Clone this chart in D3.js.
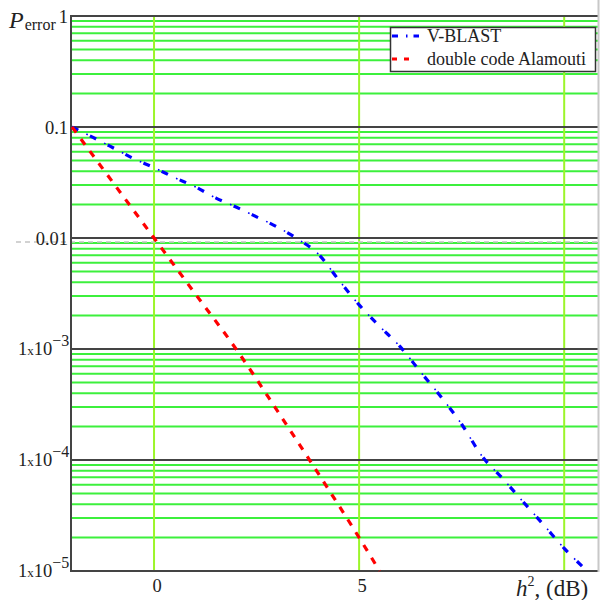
<!DOCTYPE html>
<html>
<head>
<meta charset="utf-8">
<script src="https://cdn.jsdelivr.net/npm/d3@7"></script>
<style>
  body { margin: 0; background: #fff; }
  text { font-family: "Liberation Serif", "Times New Roman", serif; fill: #222; }
</style>
</head>
<body>
<div id="chart"></div>
<script>
// data
const snrDb = [-2, -1.5, -1, -0.5, 0, 0.5, 1, 1.5, 2, 2.5, 3, 3.5, 4, 4.5, 5, 5.5, 6, 6.5, 7, 7.5, 8, 8.5, 9, 9.5, 10, 10.5];
const vblast = [0.1, 0.081, 0.065, 0.052, 0.043, 0.035, 0.029, 0.023, 0.019, 0.0155, 0.0126, 0.0098,
                0.0072, 0.0042, 0.0025, 0.0016, 0.00105, 6.2e-4, 3.7e-4, 2.1e-4, 1.08e-4, 6.8e-5, 4.2e-5, 2.6e-5, 1.6e-5, 1.05e-5];
const alamoutiDb = [-2, -1, 0, 1, 2, 3, 4, 5, 5.5];
const alamouti = [0.1, 0.0316, 0.01, 0.00316, 0.001, 2.8e-4, 7.6e-5, 2e-5, 1e-5];
const xTicks = [0, 5, 10];
const xTickLabels = ["0", "5", ""];
const yTicks = [1, 0.1, 0.01, 1e-3, 1e-4, 1e-5];
const yExp = ["1", "0.1", "0.01", "-3", "-4", "-5"];
const seriesNames = ["V-BLAST", "double code Alamouti"];

let width = 603, height = 600;
let svg = d3.select("#chart").append("svg")
    .attr("width", width).attr("height", height);

let x = d3.scaleLinear().domain([-2, 10.8]).range([72, 597]);
let y = d3.scaleLog().domain([1, 1e-5]).range([16, 571]);

// minor horizontal grid (2..9 x decade)
let minor = [];
yTicks.slice(1).forEach(function (d) {
    for (let k = 2; k <= 9; k++) minor.push(d * k);
});
let grid = svg.append("g");
grid.selectAll("line.minor")
    .data(minor)
    .enter().append("line")
    .attr("x1", x(-2)).attr("x2", 598)
    .attr("y1", d => y(d)).attr("y2", d => y(d))
    .attr("stroke", "#3cf03c").attr("stroke-width", 2);

// vertical grid
grid.selectAll("line.vert")
    .data(xTicks)
    .enter().append("line")
    .attr("x1", d => x(d)).attr("x2", d => x(d))
    .attr("y1", y(1)).attr("y2", y(1e-5))
    .attr("stroke", "#9cf52a").attr("stroke-width", 2);

// dashed grey marker line just below 0.01
svg.append("line")
    .attr("x1", 16).attr("x2", 598)
    .attr("y1", y(0.01) + 4).attr("y2", y(0.01) + 4)
    .attr("stroke", "#c4c4c4").attr("stroke-width", 1.5)
    .attr("stroke-dasharray", "5,4");

// decade lines
grid.selectAll("line.major")
    .data(yTicks)
    .enter().append("line")
    .attr("x1", x(-2) - 1).attr("x2", 598)
    .attr("y1", d => y(d)).attr("y2", d => y(d))
    .attr("stroke", "#444").attr("stroke-width", 2);

// frame
svg.append("line")
    .attr("x1", x(-2) - 1).attr("x2", x(-2) - 1)
    .attr("y1", y(1) - 1).attr("y2", y(1e-5) + 1)
    .attr("stroke", "#444").attr("stroke-width", 2);
svg.append("line")
    .attr("x1", 598.5).attr("x2", 598.5)
    .attr("y1", 0).attr("y2", y(1e-5) + 1)
    .attr("stroke", "#c8c8c8").attr("stroke-width", 2);

// curves
let line = d3.line().x(d => x(d[0])).y(d => y(d[1])).curve(d3.curveMonotoneX);
let blueData = snrDb.map((d, i) => [d, vblast[i]]);
let redData = alamoutiDb.map((d, i) => [d, alamouti[i]]);

svg.append("path")
    .attr("d", line(blueData))
    .attr("fill", "none").attr("stroke", "#0000ff").attr("stroke-width", 3.2)
    .attr("stroke-dasharray", "7,13");
svg.append("path")
    .attr("d", line(blueData))
    .attr("fill", "none").attr("stroke", "#0000ff").attr("stroke-width", 1.6)
    .attr("stroke-dasharray", "1.6,18.4").attr("stroke-dashoffset", -16);

svg.append("path")
    .attr("d", line(redData))
    .attr("fill", "none").attr("stroke", "#ff0000").attr("stroke-width", 3.2)
    .attr("stroke-dasharray", "7,8");

// y tick labels
let yl = svg.append("g");
yTicks.forEach(function (d, i) {
    let t = yl.append("text")
        .attr("x", 68).attr("y", y(d) + 7)
        .attr("text-anchor", "end")
        .style("font-size", "18.5px");
    if (i < 3) {
        t.text(yExp[i]);
    } else {
        t.attr("x", 18).attr("text-anchor", "start").attr("y", y(d) + 6);
        t.append("tspan").text("1");
        t.append("tspan").text("x").style("font-size", "13px");
        t.append("tspan").text("10");
        t.append("tspan").text(yExp[i].replace("-", "\u2212")).attr("dy", -9).style("font-size", "16px");
    }
});

// x tick labels
svg.selectAll("text.xt")
    .data(xTicks)
    .enter().append("text")
    .attr("x", d => x(d) + 3).attr("y", 592)
    .attr("text-anchor", "middle")
    .style("font-size", "18.5px")
    .text((d, i) => xTickLabels[i]);

// axis titles
let py = svg.append("text").attr("x", 9).attr("y", 28);
py.append("tspan").text("P").style("font-style", "italic").style("font-size", "24px");
py.append("tspan").text("error").attr("dx", 1).attr("dy", 2).style("font-size", "16px");

let hx = svg.append("text").attr("x", 516).attr("y", 596).style("font-size", "23px");
hx.append("tspan").text("h").style("font-style", "italic");
hx.append("tspan").text("2").attr("dy", -10).style("font-size", "14px");
hx.append("tspan").text(", (dB)").attr("dy", 10);

// legend
let lg = svg.append("g");
lg.append("rect")
    .attr("x", 390.5).attr("y", 27.5).attr("width", 205).attr("height", 44)
    .attr("fill", "#fff").attr("stroke", "#333").attr("stroke-width", 1.5);
lg.append("line")
    .attr("x1", 392).attr("x2", 419).attr("y1", 36).attr("y2", 36)
    .attr("stroke", "#0000ff").attr("stroke-width", 3).attr("stroke-dasharray", "6,8,1.5,6");
lg.append("line")
    .attr("x1", 392).attr("x2", 416).attr("y1", 59).attr("y2", 59)
    .attr("stroke", "#ff0000").attr("stroke-width", 3).attr("stroke-dasharray", "5,7");
lg.selectAll("text.lg")
    .data(seriesNames)
    .enter().append("text")
    .attr("x", 427).attr("y", (d, i) => 42 + i * 23)
    .style("font-size", "18px")
    .text(d => d);
</script>
</body>
</html>
